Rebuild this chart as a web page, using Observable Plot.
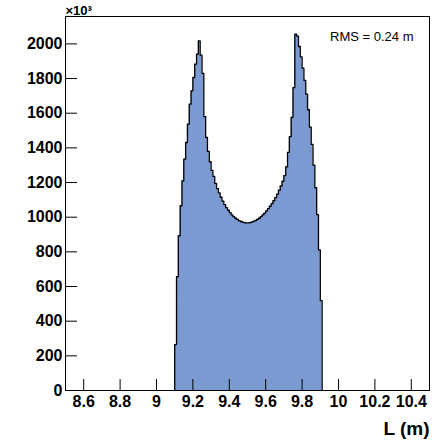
<!DOCTYPE html>
<html><head><meta charset="utf-8">
<script src="https://cdn.jsdelivr.net/npm/d3@7"></script>
<script src="https://cdn.jsdelivr.net/npm/@observablehq/plot@0.6"></script>
<style>body{margin:0;background:#fff}</style>
</head><body><div id="chart"></div>
<script>
const binStart = 9.10;
const binWidth = 0.01;
const counts = [
  265, 657, 893, 1066, 1210, 1335, 1431, 1537, 1652, 1729,
  1806, 1883, 1941, 2017, 1935, 1830, 1580, 1460, 1380, 1320,
  1270, 1235, 1195, 1165, 1140, 1115, 1093, 1073, 1055, 1040,
  1026, 1013, 1003, 994, 987, 980, 975, 971, 968, 967,
  967, 969, 972, 976, 981, 987, 994, 1003, 1013, 1024,
  1036, 1049, 1063, 1078, 1095, 1113, 1133, 1156, 1180, 1208,
  1240, 1290, 1374, 1465, 1576, 1748, 2056, 2045, 1985, 1925,
  1860, 1790, 1710, 1620, 1520, 1420, 1300, 1170, 1015, 811,
  519
];
const xDomain = [8.5, 10.5];
const yMax = 2158;
const xTicks = [8.6, 8.8, 9.0, 9.2, 9.4, 9.6, 9.8, 10.0, 10.2, 10.4];
const yTicks = [0, 200, 400, 600, 800, 1000, 1200, 1400, 1600, 1800, 2000];
const rmsLabel = "RMS = 0.24 m";
const xLabel = "L (m)";
const scaleLabel = "×10³";

const steps = [{x: binStart, y: 0}]
  .concat(counts.map((c, i) => ({x: binStart + i * binWidth, y: c})))
  .concat([{x: binStart + counts.length * binWidth, y: 0}]);

const font = "'Liberation Sans', Arial, Helvetica, sans-serif";
const chart = Plot.plot({
  width: 432, height: 440,
  marginLeft: 65, marginRight: 3, marginTop: 16, marginBottom: 50,
  style: {fontFamily: font, background: "white", color: "black"},
  x: {domain: xDomain},
  y: {domain: [0, yMax]},
  marks: [
    Plot.areaY(steps, {x: "x", y: "y", curve: "step-after", fill: "#7b9ad2"}),
    Plot.lineY(steps, {x: "x", y: "y", curve: "step-after", stroke: "black", strokeWidth: 1.3}),
    Plot.ruleX(xTicks, {x: d => d, insetTop: 363, stroke: "black"}),
    Plot.ruleY(yTicks, {y: d => d, insetRight: 352, stroke: "black"}),
    Plot.axisX(xTicks, {tickSize: 0, tickPadding: 5, tickFormat: d => String(+d.toFixed(1)), fontSize: 16, fontWeight: "bold", label: null}),
    Plot.axisY(yTicks, {tickSize: 0, tickPadding: 3, tickFormat: d => String(d), fontSize: 16, fontWeight: "bold", label: null}),
    Plot.frame({stroke: "black", strokeWidth: 1}),
    Plot.text([rmsLabel], {text: d => d, frameAnchor: "top-right", dx: -16, dy: 24.7, lineAnchor: "bottom", textAnchor: "end", fontSize: 13}),
    Plot.text([xLabel], {text: d => d, frameAnchor: "bottom-right", dy: 44, lineAnchor: "bottom", textAnchor: "end", fontSize: 19, fontWeight: "bold"}),
    Plot.text([scaleLabel], {text: d => d, frameAnchor: "top-left", dy: -2, lineAnchor: "bottom", textAnchor: "start", fontSize: 13, fontWeight: "bold"})
  ]
});
document.getElementById("chart").appendChild(chart);
</script>
</body></html>
